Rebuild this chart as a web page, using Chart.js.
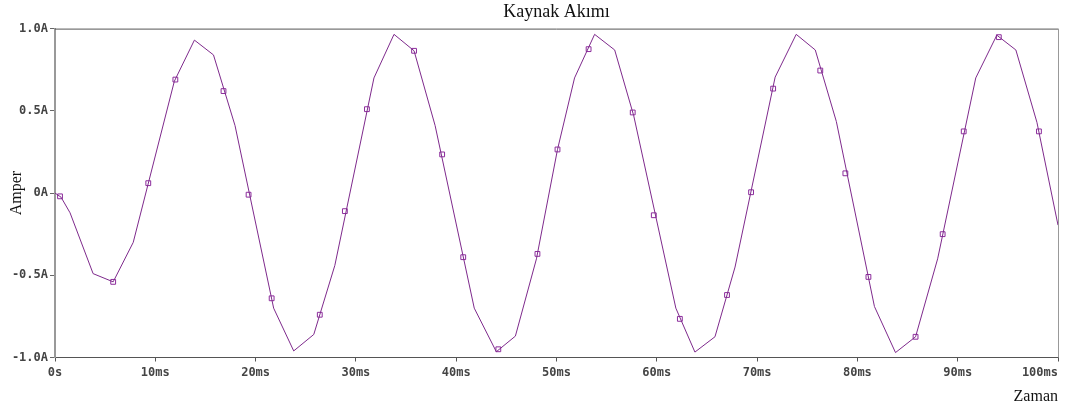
<!DOCTYPE html>
<html>
<head>
<meta charset="utf-8">
<script src="https://cdn.jsdelivr.net/npm/chart.js@4.4.1/dist/chart.umd.min.js"></script>
<style>
  html, body { margin: 0; padding: 0; background: #fff; }
  #wrap { width: 1068px; height: 412px; }
</style>
</head>
<body>
<div id="wrap"><canvas id="chart" width="1068" height="412"></canvas></div>
<script>
// ── Data ────────────────────────────────────────
// trace corners: time in ms, current in A
const traceTime = [0, 0.6, 1.5, 3.8, 5.8, 7.8, 11.9, 13.9, 15.8, 17.95, 21.8, 23.8, 25.8, 27.9,
  31.8, 33.8, 35.8, 37.9, 41.8, 44.0, 45.9, 48.0, 50.1, 51.8, 53.8, 55.8, 57.7, 61.9, 63.8,
  65.8, 67.8, 71.8, 73.9, 75.8, 77.9, 81.7, 83.8, 85.8, 88.0, 91.8, 93.9, 95.8, 97.9, 100];
const traceAmp = [0, -0.025, -0.12, -0.49, -0.54, -0.30, 0.68, 0.93, 0.84, 0.41, -0.70, -0.96, -0.86, -0.44,
  0.70, 0.965, 0.865, 0.41, -0.70, -0.965, -0.87, -0.40, 0.265, 0.70, 0.965, 0.87, 0.47, -0.70, -0.967,
  -0.874, -0.45, 0.705, 0.965, 0.87, 0.435, -0.69, -0.97, -0.874, -0.40, 0.70, 0.96, 0.87, 0.43, -0.195];

// square markers along the trace
const markTime = [0.5, 5.8, 9.3, 12.0, 16.8, 19.3, 21.6, 26.4, 28.9, 31.1, 35.8, 38.6, 40.7, 44.2,
  48.1, 50.1, 53.2, 57.6, 59.7, 62.3, 67.0, 69.4, 71.6, 76.3, 78.8, 81.1, 85.8, 88.5, 90.6, 94.1, 98.1];
const markAmp = [-0.02, -0.54, 0.06, 0.69, 0.62, -0.01, -0.64, -0.74, -0.11, 0.51, 0.865, 0.235, -0.39, -0.95,
  -0.37, 0.265, 0.875, 0.49, -0.135, -0.765, -0.62, 0.005, 0.635, 0.745, 0.12, -0.51, -0.874, -0.25, 0.375, 0.948, 0.375];

// last label sits left of its tick (padded with spaces so it stays inside the page)
const xTickLabels = ['0s', '10ms', '20ms', '30ms', '40ms', '50ms', '60ms', '70ms', '80ms', '90ms', '100ms     '];
const yTickLabels = ['-1.0A', '-0.5A', '0A', '0.5A', '1.0A'];

const lineColor = '#7e2a8c';
const markColor = '#8c2c9c';
const tickFont  = { family: "'DejaVu Sans Mono', monospace", size: 12, weight: 'bold' };
const serif     = "'Liberation Serif', serif";

// ── Frame (top + right border) ──────────────────
const framePlugin = {
  id: 'frame',
  afterDraw(chart) {
    const { ctx, chartArea: a } = chart;
    ctx.save();
    ctx.lineWidth = 1;
    ctx.strokeStyle = '#555';
    ctx.beginPath();
    ctx.moveTo(a.left, a.top + 0.5);
    ctx.lineTo(a.right, a.top + 0.5);
    ctx.stroke();
    ctx.strokeStyle = '#999';
    ctx.beginPath();
    ctx.moveTo(a.right + 0.5, a.top);
    ctx.lineTo(a.right + 0.5, a.bottom);
    ctx.stroke();
    ctx.restore();
  }
};

new Chart(document.getElementById('chart'), {
  type: 'scatter',
  data: {
    datasets: [
      {
        label: 'trace',
        data: traceTime.map((t, i) => ({ x: t, y: traceAmp[i] })),
        showLine: true,
        borderColor: lineColor,
        borderWidth: 1,
        pointRadius: 0,
        tension: 0,
      },
      {
        label: 'markers',
        data: markTime.map((t, i) => ({ x: t, y: markAmp[i] })),
        showLine: false,
        pointStyle: 'rect',
        pointRadius: 3.4,
        pointBorderWidth: 1,
        pointBorderColor: markColor,
        pointBackgroundColor: '#fff',
      },
    ],
  },
  options: {
    responsive: false,
    animation: false,
    layout: { padding: { left: 0, right: 10, top: 0, bottom: 0 } },
    plugins: {
      legend:  { display: false },
      tooltip: { enabled: false },
      title: {
        display: true,
        fullSize: false,
        text: 'Kaynak Akımı',
        color: '#111',
        font: { family: serif, size: 18, weight: 'normal' },
        padding: { top: 1, bottom: 6 },
      },
    },
    scales: {
      x: {
        type: 'linear',
        min: 0, max: 100,
        afterFit: s => { s.height = 54.5; s.paddingRight = 0; s.paddingLeft = 0; },
        border: { color: '#555', width: 1 },
        grid: { drawOnChartArea: false, drawTicks: true, tickLength: 4, color: '#555' },
        ticks: {
          stepSize: 10,
          color: '#444',
          font: tickFont,
          padding: 4,
          maxRotation: 0,
          autoSkip: false,
          callback: v => xTickLabels[Math.round(v / 10)],
        },
        title: {
          display: true,
          text: 'Zaman',
          align: 'end',
          color: '#111',
          font: { family: serif, size: 16 },
          padding: { top: 0, bottom: 6 },
        },
      },
      y: {
        min: -1, max: 1,
        afterFit: s => { s.width = 55; },
        border: { color: '#999', width: 2 },
        grid: { drawOnChartArea: false, drawTicks: true, tickLength: 5, color: '#666' },
        ticks: {
          stepSize: 0.5,
          color: '#444',
          font: tickFont,
          padding: 2,
          callback: v => yTickLabels[Math.round((v + 1) / 0.5)],
        },
        title: {
          display: true,
          text: 'Amper',
          color: '#111',
          font: { family: serif, size: 16 },
          padding: { top: 7, bottom: 0 },
        },
      },
    },
  },
  plugins: [framePlugin],
});
</script>
</body>
</html>
